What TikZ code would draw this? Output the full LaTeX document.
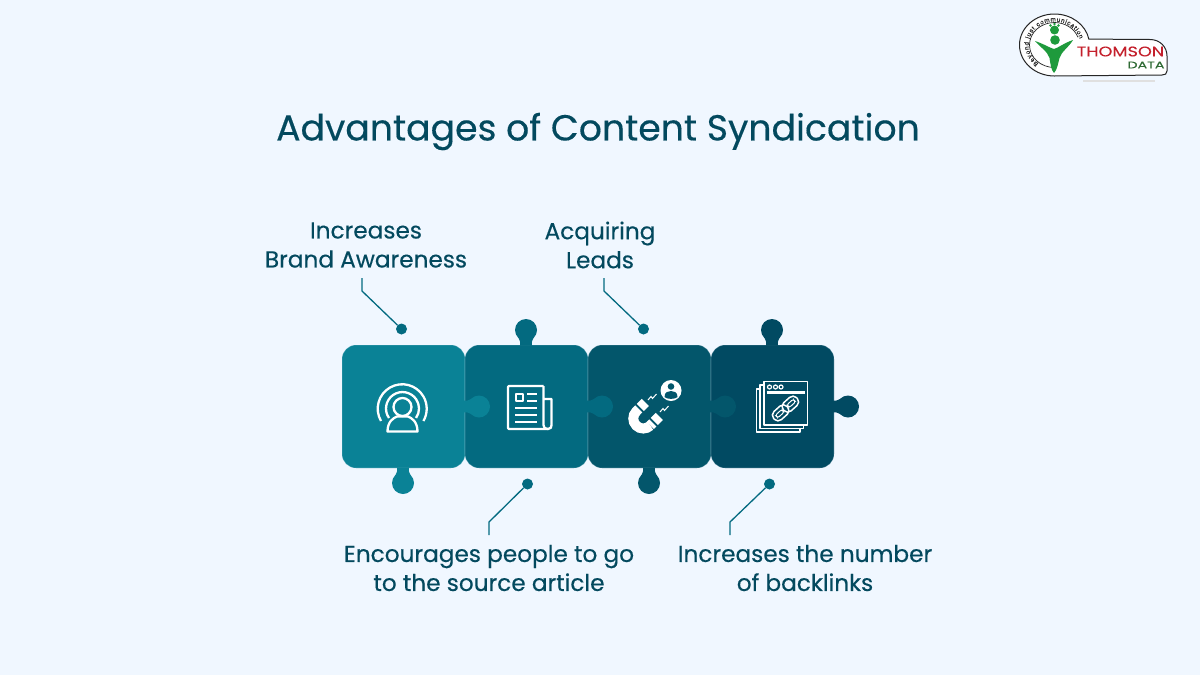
\documentclass[tikz,border=0pt]{standalone}
\usepackage{fontspec}
\setmainfont{Poppins}[FakeBold=0.35]
\newfontfamily\logofont{Liberation Sans}[FakeBold=0.3]
\newfontfamily\logoname{Poppins}[FakeBold=0.15]
\usetikzlibrary{decorations.text}
\definecolor{pagebg}{HTML}{F0F7FF}
\definecolor{inktext}{HTML}{03495E}
\definecolor{pieceone}{HTML}{0A8296}
\definecolor{piecetwo}{HTML}{036A80}
\definecolor{piecethree}{HTML}{03566B}
\definecolor{piecefour}{HTML}{014A62}
\definecolor{logored}{HTML}{C4202C}
\definecolor{logogreen}{HTML}{1E9A3C}
\definecolor{logodark}{HTML}{2F6B35}
\tikzset{
	label text/.style={text=inktext,align=center,font=\fontsize{23.2}{29}\selectfont,inner sep=0pt},
	piece/.style={minimum size=123pt,rounded corners=14pt,inner sep=0pt,draw=pagebg,draw opacity=.25,line width=.6pt},
	leader/.style={draw=piecetwo,line width=1.3pt},
	dotmark/.style={circle,fill=piecetwo,minimum size=11pt,inner sep=0pt},
	iconline/.style={draw=white,line width=2.3pt,line join=round},
	iconthin/.style={draw=white,line width=1.5pt,line join=round}
}
% one bulb of a puzzle piece: colour, x, y, rotation
\newcommand{\puzzletab}[4]{
	\fill[#1,shift={(#2,#3)},rotate=#4] (0,0) circle (11)
		(-15.5,-6) .. controls (-13,-5.5) and (-12,-5.5) .. (-8,-7.5) -- (-8,7.5) .. controls (-12,5.5) and (-13,5.5) .. (-15.5,6) -- cycle;
}
\begin{document}
\begin{tikzpicture}[x=1pt,y=-1pt]
	\useasboundingbox (0,0) rectangle (1200,675);
	\fill[pagebg] (0,0) rectangle (1200,675);

	\node[text=inktext,font=\fontsize{36.2}{44}\selectfont,inner sep=0pt] (title) at (598,131.5) {Advantages of Content Syndication};

	% pieces
	\node[piece,fill=pieceone] (pieceA) at (403.5,406.5) {};
	\node[piece,fill=piecetwo] (pieceB) at (526.5,406.5) {};
	\node[piece,fill=piecethree] (pieceC) at (649.5,406.5) {};
	\node[piece,fill=piecefour] (pieceD) at (772.5,406.5) {};

	\puzzletab{pieceone}{403}{483}{270}
	\puzzletab{pieceone}{479}{406.5}{0}
	\puzzletab{piecetwo}{526}{330}{90}
	\puzzletab{piecetwo}{602}{406.5}{0}
	\puzzletab{piecethree}{649}{483}{270}
	\puzzletab{piecethree}{725}{406.5}{0}
	\puzzletab{piecefour}{772}{330}{90}
	\puzzletab{piecefour}{848}{406.5}{0}

	% broadcast person
	\draw[iconline] (402.5,407) circle (9);
	\draw[iconline] (387.5,431.5) .. controls (387.5,422) and (393,418) .. (397,416.5) -- (408,416.5) .. controls (412,418) and (417.5,422) .. (417.5,431.5) -- cycle;
	\draw[iconline] (389,418) arc (145:395:16.5);
	\draw[iconline] (381,421) arc (150:390:24.5);

	% newspaper
	\draw[iconline,rounded corners=1pt] (543.5,386) -- (508,386) -- (508,429) -- (548,429);
	\draw[iconline] (543.5,386) -- (543.5,425) .. controls (543.5,428) and (545,429) .. (548,429) .. controls (551,429) and (551.5,427) .. (551.5,425) -- (551.5,399) -- (543.5,399);
	\draw[iconthin,line width=2pt] (515.5,393.5) rectangle (522.5,400.5);
	\foreach \yy in {393.5,400.5} \draw[iconthin,line width=2pt] (527,\yy) -- (536.5,\yy);
	\foreach \yy in {408,415,422} \draw[iconthin,line width=2pt] (515,\yy) -- (536.5,\yy);

	% magnet
	\draw[white,line width=10pt] (643.3,418.5) ++(45:10) arc (45:225:10) -- ++(2.5,-2.5);
	\draw[white,line width=10pt] (650.3,425.5) -- ++(2.5,-2.5);
	\draw[white,line width=10pt] (640.3,407.5) -- ++(5,-5);
	\draw[white,line width=10pt] (654.3,421.5) -- ++(5,-5);
	\fill[white] (671,390.5) circle (10.5);
	\fill[piecethree] (671,386.5) circle (3.3);
	\fill[piecethree] (664.5,397) .. controls (664.5,392) and (668,391) .. (671,391) .. controls (674,391) and (677.5,392) .. (677.5,397) .. controls (675,399.5) and (667,399.5) .. (664.5,397) -- cycle;
	\draw[white,line width=1pt] (648,400) -- (651,396.5) -- (652.5,398.5) -- (656.5,394);
	\draw[white,line width=1pt] (660,412) -- (663,408.5) -- (664.5,410.5) -- (668.5,406);

	% stack of pages with link
	\draw[iconthin] (764,381.5) rectangle (807.5,425);
	\draw[iconthin] (764,385) -- (760,385) -- (760,428.5) -- (803.5,428.5) -- (803.5,425);
	\draw[iconthin] (760,389) -- (756.5,389) -- (756.5,432) -- (800,432) -- (800,428.5);
	\draw[iconline] (766.5,392.5) -- (805,392.5);
	\foreach \xx in {769.5,775.5,781} \draw[white,line width=1.2pt] (\xx,387) circle (2);
	\begin{scope}[shift={(785.5,408.5)},rotate=42]
		\draw[iconthin,rounded corners=5pt] (-15.5,-5.5) rectangle (2.5,5.5);
		\draw[iconthin,rounded corners=5pt] (-2.5,-5.5) rectangle (15.5,5.5);
		\draw[white,line width=1pt,rounded corners=2pt] (-12,-1.8) rectangle (-3.5,1.8);
		\draw[white,line width=1pt,rounded corners=2pt] (3.5,-1.8) rectangle (12,1.8);
	\end{scope}

	% labels
	\node[label text] (labelA) at (366,245) {Increases\\Brand Awareness};
	\node[label text] (labelC) at (600,245) {Acquiring\\Leads};
	\node[label text] (labelB) at (489,568) {Encourages people to go\\to the source article};
	\node[label text] (labelD) at (805,568) {Increases the number\\of backlinks};

	\node[dotmark] (dotA) at (401.5,329) {};
	\node[dotmark] (dotC) at (643.5,329) {};
	\node[dotmark] (dotB) at (527.5,484) {};
	\node[dotmark] (dotD) at (769.5,484) {};

	\coordinate (endA) at (362,278);
	\coordinate (endC) at (604,278);
	\coordinate (endB) at (489,535);
	\coordinate (endD) at (730,535);

	\draw[leader] (endA) -- ++(0,13) -- (dotA);
	\draw[leader] (endC) -- ++(0,13) -- (dotC);
	\draw[leader] (endB) -- ++(0,-13) -- (dotB);
	\draw[leader] (endD) -- ++(0,-13) -- (dotD);

	% logo
	\fill[black!12] (1083,80) rectangle (1155,81.5);
	\draw[fill=white,draw=black!85,line width=1pt] (1054.5,76) arc (90:349:35 and 31) -- (1150,39.5) .. controls (1160,39.5) and (1167,47) .. (1167,56) -- (1167,71) .. controls (1167,74) and (1165,75) .. (1162,75) -- cycle;
	\draw[black!85,line width=.7pt] (1054.5,67.5) arc (90:340:25 and 22.5);
	\path[decorate,decoration={text along path,text align={fit to path},text={|\fontsize{6.3}{7}\selectfont\logofont\color{black!85}|Beyond just communication}}] (1054.5,45) ++(128:26 and 23.5) arc (128:345:26 and 23.5);
	\fill[logogreen] (1054.5,30) circle (4.5);
	\fill[logogreen] (1050.5,25.5) circle (1.3) (1054.5,24) circle (1.3) (1058.5,25.5) circle (1.3);
	\fill[logogreen] (1055,40) circle (4.8);
	\fill[logogreen] (1035,41) .. controls (1044,44) and (1050,48) .. (1054,49) .. controls (1058,48) and (1064,43) .. (1073,40) .. controls (1069,47) and (1061,52) .. (1059.5,58) .. controls (1058,64) and (1057,70) .. (1054,73) .. controls (1051,70) and (1050.5,64) .. (1049.5,58) .. controls (1048,52) and (1040,47) .. (1035,41) -- cycle;
	\node[text=logored,font=\fontsize{14}{14}\logoname,inner sep=0pt] (logotitle) at (1120.5,51.5) {\scalebox{1.26}[1]{THOMSON}};
	\node[text=logodark,font=\fontsize{9.5}{10}\logoname,inner sep=0pt] (logosub) at (1146,65) {\scalebox{1.5}[1]{DATA}};
\end{tikzpicture}
\end{document}
